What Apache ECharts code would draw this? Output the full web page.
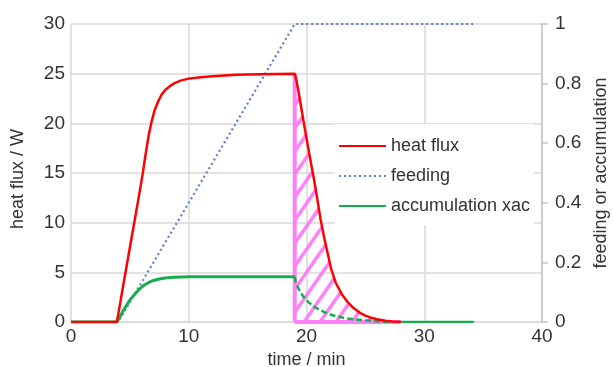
<!DOCTYPE html>
<html>
<head>
<meta charset="utf-8">
<script src="https://cdn.jsdelivr.net/npm/echarts@6/dist/echarts.min.js"></script>
<style>html,body{margin:0;padding:0;background:#fff}#c{width:613px;height:367px}</style>
</head>
<body>
<div id="c"></div>
<script>
// ---- data ----
const xTicks = [0, 10, 20, 30, 40];
const heatT = [0, 3.9, 4.25, 4.6, 5, 5.4, 5.8, 6.1, 6.35, 6.6, 6.85, 7.1, 7.4, 7.7, 8, 8.4, 8.8, 9.3, 10, 11, 12, 14, 16, 19,
               19.15, 19.35, 19.55, 19.75, 20, 20.3, 20.6, 20.9, 21.2, 21.5, 21.8, 22.1, 22.5, 23, 23.5, 24, 24.5, 25, 25.5, 26, 26.7, 27.3, 28];
const heatW = [0, 0, 2.4, 4.8, 7.5, 10.2, 12.9, 15, 17, 18.8, 20.2, 21.3, 22.2, 22.9, 23.35, 23.75, 24.05, 24.3, 24.5, 24.65, 24.75, 24.88, 24.95, 25,
               24.3, 23.0, 21.6, 20.2, 18.5, 16.5, 14.6, 12.5, 10.3, 8.5, 6.9, 5.3, 3.9, 2.8, 2.0, 1.4, 0.95, 0.65, 0.42, 0.27, 0.13, 0.06, 0.02];
const feedT = [0, 4, 19, 34.2];
const feedV = [0, 0, 1, 1];
const accT = [0, 3.9, 4.15, 4.4, 4.7, 5, 5.3, 5.6, 5.9, 6.2, 6.6, 7, 7.5, 8, 8.7, 9.5, 10, 19];
const accV = [0, 0, 0.5, 1.05, 1.65, 2.2, 2.65, 3.05, 3.4, 3.7, 3.98, 4.18, 4.33, 4.43, 4.5, 4.54, 4.55, 4.55];
const accDecT = [19, 19.1, 19.25, 19.5, 19.8, 20.2, 20.6, 21, 21.5, 22, 22.7, 23.4, 24.2, 25, 26, 27];
const accDecV = [4.55, 4.0, 3.55, 2.95, 2.45, 1.95, 1.58, 1.3, 1.0, 0.75, 0.52, 0.37, 0.25, 0.17, 0.08, 0];
const accTailT = [27, 34.2];
const accTailV = [0, 0];
const hatchStart = 19;
const hatchEnd = 28;

const zip = (a, b) => a.map((v, i) => [v, b[i]]);

// hatch pattern
const pw = 16, ph = 23;
const pc = document.createElement('canvas');
pc.width = pw; pc.height = ph;
const g = pc.getContext('2d');
g.strokeStyle = '#ff7ff6';
g.lineWidth = 3.5;
for (const dx of [-pw, 0, pw]) for (const dy of [-ph, 0, ph]) {
  g.beginPath(); g.moveTo(dx, ph + dy); g.lineTo(pw + dx, dy); g.stroke();
}

const hatchData = [[hatchStart, 0]].concat(zip(heatT, heatW).filter(p => p[0] >= hatchStart && p[0] <= hatchEnd));
const hatchTop = zip(heatT, heatW).find(p => p[0] === hatchStart)[1];

const font = '"Liberation Sans", Arial, sans-serif';
const txt = '#333';
const grid = '#d9d9d9';
const magenta = '#ff80f6';

const chart = echarts.init(document.getElementById('c'), null, {renderer: 'canvas'});
chart.setOption({
  animation: false,
  backgroundColor: '#fff',
  textStyle: {fontFamily: font},
  grid: {left: 71, right: 71, top: 24, bottom: 45, containLabel: false, outerBoundsMode: 'none'},
  legend: {
    data: ['heat flux', 'feeding', 'accumulation xac'],
    orient: 'vertical', left: 335, top: 124,
    padding: [13, 4, 10, 3], itemGap: 12, itemWidth: 47, itemHeight: 14,
    backgroundColor: '#fff',
    itemStyle: {opacity: 0},
    textStyle: {fontSize: 18, color: txt, fontFamily: font}
  },
  xAxis: {
    type: 'value', min: 0, max: 40, interval: 10,
    name: 'time / min', nameLocation: 'middle', nameGap: 27,
    nameTextStyle: {fontSize: 18, color: txt, fontFamily: font},
    axisLine: {show: true, lineStyle: {color: grid, width: 1.5}},
    axisTick: {show: false},
    axisLabel: {fontSize: 19, color: txt, margin: 5, fontFamily: font, formatter: v => xTicks.includes(v) ? String(v) : ''},
    splitLine: {show: true, lineStyle: {color: grid, width: 1.5}}
  },
  yAxis: [{
    type: 'value', min: 0, max: 30, interval: 5,
    name: 'heat flux / W', nameLocation: 'middle', nameGap: 44,
    nameTextStyle: {fontSize: 18, color: txt, fontFamily: font, padding: [0, 12, 0, 0]},
    axisLine: {show: false}, axisTick: {show: false},
    axisLabel: {fontSize: 19, color: txt, margin: 6, fontFamily: font},
    splitLine: {show: true, lineStyle: {color: grid, width: 1.5}}
  }, {
    type: 'value', min: 0, max: 1, interval: 0.2, position: 'right',
    name: 'feeding or accumulation', nameLocation: 'middle', nameGap: 49,
    nameTextStyle: {fontSize: 18, color: txt, fontFamily: font},
    axisLine: {show: true, lineStyle: {color: '#c4c4c4', width: 1.5}},
    axisTick: {show: true, length: 6, lineStyle: {color: '#c4c4c4', width: 1.5}},
    axisLabel: {fontSize: 19, color: txt, margin: 13, fontFamily: font},
    splitLine: {show: false}
  }],
  series: [
    {name: 'hatch', type: 'line', data: hatchData, symbol: 'none', silent: true,
     lineStyle: {width: 0, opacity: 0},
     areaStyle: {color: {image: pc, repeat: 'repeat'}, opacity: 1}, z: 1},
    {name: 'hatchLeft', type: 'line', data: [[hatchStart, 0], [hatchStart, hatchTop]], symbol: 'none', silent: true,
     lineStyle: {color: magenta, width: 4}, z: 1},
    {name: 'hatchBottom', type: 'line', data: [[hatchStart, 0], [hatchEnd, 0]], symbol: 'none', silent: true,
     lineStyle: {color: magenta, width: 4}, z: 1},
    {name: 'feeding', type: 'line', yAxisIndex: 1, data: zip(feedT, feedV), symbol: 'none', showSymbol: false,
     color: '#5b7fcc', lineStyle: {color: '#5b7fcc', width: 2.2, type: [2, 3]}, z: 2},
    {name: 'accumulation xac', type: 'line', data: zip(accT, accV), symbol: 'none', showSymbol: false,
     color: '#16ad4f', lineStyle: {color: '#16ad4f', width: 3}, z: 3},
    {name: 'accDecay', type: 'line', data: zip(accDecT, accDecV), symbol: 'none',
     lineStyle: {color: '#16ad4f', width: 2.5, type: [6, 3]}, z: 3},
    {name: 'accTail', type: 'line', data: zip(accTailT, accTailV), symbol: 'none',
     lineStyle: {color: '#16ad4f', width: 2.5}, z: 0},
    {name: 'heat flux', type: 'line', data: zip(heatT, heatW), symbol: 'none', showSymbol: false,
     color: '#ff0000', lineStyle: {color: '#ff0000', width: 2.5}, z: 4}
  ]
});
</script>
</body>
</html>
